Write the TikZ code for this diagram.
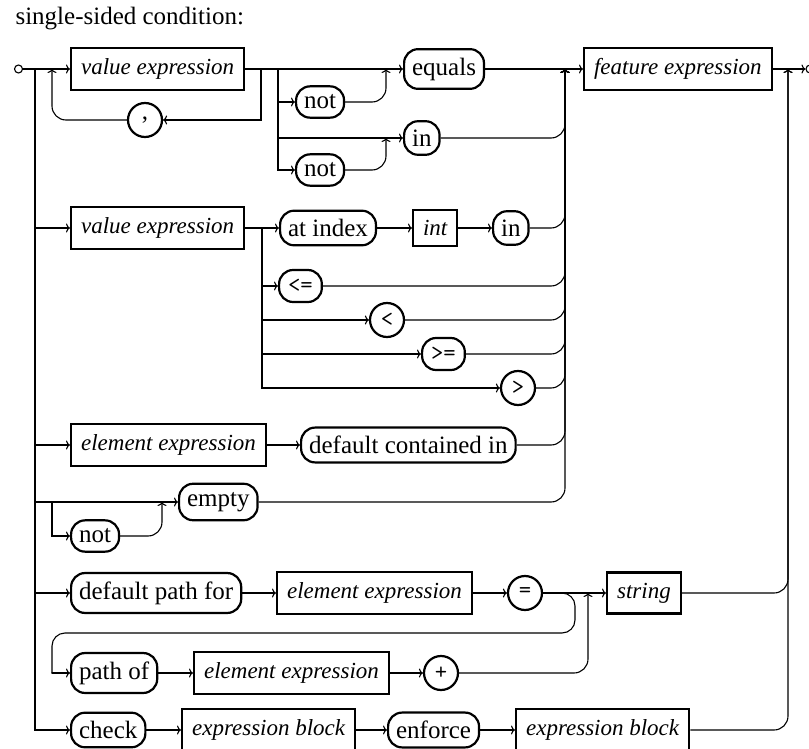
\documentclass[tikz,border=0pt]{standalone}
\usepackage{fontspec}
\setmainfont{Liberation Serif}
\usetikzlibrary{arrows.meta}
\begin{document}
\begin{tikzpicture}[x=1pt,y=-1pt,
  conn/.style={line width=1.1pt},
  arr/.style={conn,-{To[length=4pt,width=9pt]}},
  joinpath/.style={arr,rounded corners=14pt},
  nterm/.style={draw,line width=2.2pt,inner xsep=10pt,inner ysep=10.5pt,
    font=\fontsize{23}{27}\selectfont\itshape},
  term/.style={draw,line width=2.2pt,rounded corners=14pt,inner xsep=8pt,inner ysep=8.5pt,
    font=\fontsize{25}{29}\selectfont},
  sym/.style={draw,line width=2.2pt,circle,minimum size=34pt,inner sep=0pt,
    font=\fontsize{24}{28}\selectfont\ttfamily},
  symbox/.style={draw,line width=2.2pt,rounded corners=14pt,minimum height=32pt,
    inner xsep=9pt,inner ysep=0pt,font=\fontsize{24}{28}\selectfont\ttfamily},
  endpt/.style={draw,circle,line width=1.1pt,minimum size=8pt,inner sep=0pt}]
\useasboundingbox (0,0) rectangle (809,749);

\node[anchor=base west,font=\fontsize{25}{29}\selectfont] (title) at (12,25) {single-sided condition:};

% start and end points
\node[endpt] (start) at (18.5,69) {};
\node[endpt] (fin) at (810,69) {};

% first alternative: value expression list with comparison keyword
\node[nterm,anchor=west] (ve1) at (70,69) {value expression};
\node[sym,font=\fontsize{25}{29}\selectfont] (comma) at (145,120) {,};
\node[term,anchor=west] (eq) at (403,69) {equals};
\node[term,anchor=west] (not1) at (295,102) {not};
\node[term,anchor=west] (in1) at (403,138) {in};
\node[term,anchor=west] (not2) at (295,170) {not};
\node[nterm,anchor=west] (fe) at (583,69) {feature expression};

% second alternative: indexed membership and comparisons
\node[nterm,anchor=west] (ve2) at (70,228) {value expression};
\node[term,anchor=west] (atidx) at (279,228) {at index};
\node[nterm,anchor=west] (int) at (412,228) {int};
\node[term,anchor=west] (in2) at (492,228) {in};
\node[symbox,anchor=west] (le) at (278,286) {<=};
\node[sym] (lt) at (387,320) {<};
\node[symbox,anchor=west] (ge) at (421,354) {>=};
\node[sym] (gt) at (518,388) {>};

% third and fourth alternatives
\node[nterm,anchor=west] (el1) at (70,445) {element expression};
\node[term,anchor=west] (dci) at (300,445) {default contained in};
\node[term,anchor=west] (empty) at (178,502) {empty};
\node[term,anchor=west] (not3) at (70,536) {not};

% path alternatives
\node[term,anchor=west] (dpf) at (70,593) {default path for};
\node[nterm,anchor=west] (el2) at (276,593) {element expression};
\node[sym] (eqs) at (525,593) {=};
\node[nterm,anchor=west] (str) at (606,593) {string};
\node[term,anchor=west] (pathof) at (70,673) {path of};
\node[nterm,anchor=west] (el3) at (193,673) {element expression};
\node[sym] (plus) at (441,673) {+};

% check alternative
\node[term,anchor=west] (check) at (70,730) {check};
\node[nterm,anchor=west] (eb1) at (181,730) {expression block};
\node[term,anchor=west] (enf) at (387,730) {enforce};
\node[nterm,anchor=west] (eb2) at (515,730) {expression block};

% junction points
\coordinate (s0) at (35,69);
\coordinate (s1) at (261,69);
\coordinate (s2) at (278,69);
\coordinate (s3) at (262,228);
\coordinate (s4) at (52,502);
\coordinate (cl) at (52,69);
\coordinate (jN) at (386,69);
\coordinate (jI) at (386,138);
\coordinate (jA) at (565,69);
\coordinate (jB) at (788,69);
\coordinate (jD) at (162,502);
\coordinate (jE) at (588,593);
\coordinate (lr) at (575,593);
\coordinate (lb) at (575,633);
\coordinate (ll) at (52,633);
\coordinate (lp) at (52,673);

% trunk
\draw[arr] (start) -- (ve1.west);
\draw[arr] (s0) |- (check.west);
\draw[arr] (s0 |- ve2.west) -- (ve2.west);
\draw[arr] (s0 |- el1.west) -- (el1.west);
\draw[arr] (s0 |- empty.west) -- (empty.west);
\draw[arr] (s0 |- dpf.west) -- (dpf.west);

% first row
\draw[arr] (ve1.east) -- (eq.west);
\draw[arr] (s1) |- (comma.east);
\draw[joinpath] (comma.west) -| (cl);
\draw[arr] (s2) |- (not2.west);
\draw[arr] (s2 |- not1.west) -- (not1.west);
\draw[arr] (s2 |- in1.west) -- (in1.west);
\draw[joinpath] (not1.east) -| (jN);
\draw[joinpath] (not2.east) -| (jI);
\draw[joinpath] (in1.east) -| (jA);
\draw[arr] (eq.east) -- (fe.west);
\draw[arr] (fe.east) -- (fin);

% second row
\draw[arr] (ve2.east) -- (atidx.west);
\draw[arr] (atidx.east) -- (int.west);
\draw[arr] (int.east) -- (in2.west);
\draw[arr] (s3) |- (gt.west);
\draw[arr] (s3 |- le.west) -- (le.west);
\draw[arr] (s3 |- lt.west) -- (lt.west);
\draw[arr] (s3 |- ge.west) -- (ge.west);
\draw[joinpath] (in2.east) -| (jA);
\draw[joinpath] (le.east) -| (jA);
\draw[joinpath] (lt.east) -| (jA);
\draw[joinpath] (ge.east) -| (jA);
\draw[joinpath] (gt.east) -| (jA);

% third and fourth rows
\draw[arr] (el1.east) -- (dci.west);
\draw[joinpath] (dci.east) -| (jA);
\draw[arr] (s4) |- (not3.west);
\draw[joinpath] (not3.east) -| (jD);
\draw[joinpath] (empty.east) -| (jA);

% path rows
\draw[arr] (dpf.east) -- (el2.west);
\draw[arr] (el2.east) -- (eqs.west);
\draw[arr] (eqs.east) -- (str.west);
\draw[conn,rounded corners=13pt,line cap=round] (eqs.east) -- (lr) -- (lb) -- (ll) -- (lp);
\draw[arr,line cap=round] (lp) -- (pathof.west);
\draw[arr] (pathof.east) -- (el3.west);
\draw[arr] (el3.east) -- (plus.west);
\draw[joinpath] (plus.east) -| (jE);
\draw[joinpath] (str.east) -| (jB);

% check row
\draw[arr] (check.east) -- (eb1.west);
\draw[arr] (eb1.east) -- (enf.west);
\draw[arr] (enf.east) -- (eb2.west);
\draw[joinpath] (eb2.east) -| (jB);
\end{tikzpicture}
\end{document}
